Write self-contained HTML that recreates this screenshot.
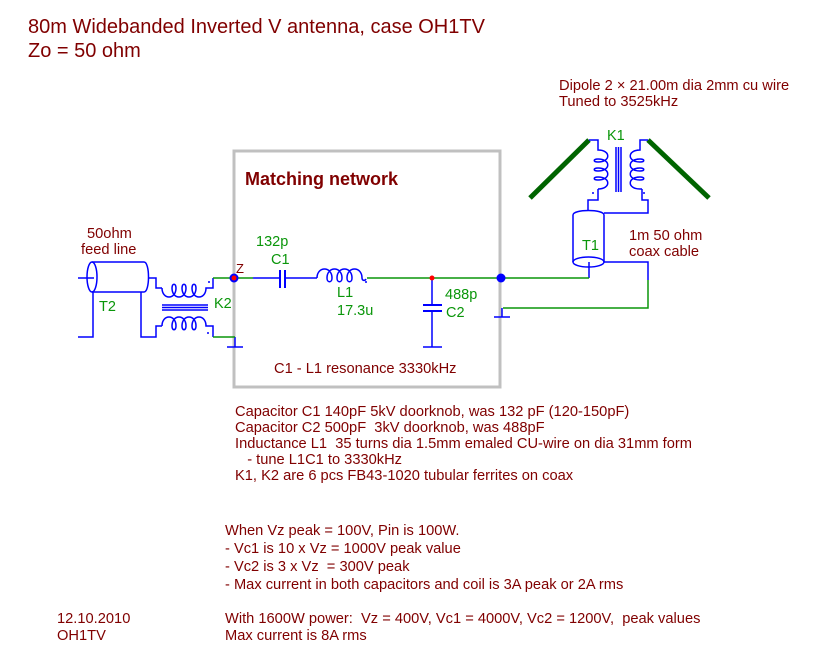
<!DOCTYPE html>
<html><head><meta charset="utf-8"><style>
html,body{margin:0;padding:0;background:#fff}
svg{display:block}
text{white-space:pre}
</style></head><body>
<svg width="813" height="662" viewBox="0 0 813 662" xmlns="http://www.w3.org/2000/svg" font-family="'Liberation Sans', Arial, sans-serif">
<rect x="0" y="0" width="813" height="662" fill="#fff"/>

<!-- Titles -->
<g fill="#800000" font-size="20">
<text x="28" y="33">80m Widebanded Inverted V antenna, case OH1TV</text>
<text x="28" y="57">Zo = 50 ohm</text>
</g>

<!-- Matching network box -->
<rect x="234" y="151" width="266" height="236" fill="none" stroke="#c0c0c0" stroke-width="3"/>
<text x="245" y="185" fill="#800000" font-size="18" font-weight="bold">Matching network</text>

<!-- Antenna legs -->
<g stroke="#006400" stroke-width="5" fill="none">
<line x1="530" y1="198" x2="589" y2="140"/>
<line x1="648" y1="140" x2="709" y2="198"/>
</g>

<!-- Blue circuit -->
<g stroke="#0000ff" stroke-width="1.5" fill="none">
<!-- T2 coax -->
<ellipse cx="92" cy="277" rx="5" ry="15"/>
<path d="M92,262 H144 C150,262 150,292 144,292 H92"/>
<path d="M78,278 H94"/>
<path d="M148.5,278 H156 V288 H162"/>
<path d="M93,292 V337 H78"/>
<path d="M141,292 V337 H156 V326 H162"/>
<!-- K2 top coil (arches down) -->
<path d="M162,288 C162,300 176,300 176,288 C176,283 172,283 172,288 C172,300 186,300 186,288 C186,283 182,283 182,288 C182,300 196,300 196,288 C196,283 192,283 192,288 C192,300 206,300 206,288 H213 V278"/>
<!-- K2 bottom coil (arches up) -->
<path d="M162,326 C162,314 176,314 176,326 C176,331 172,331 172,326 C172,314 186,314 186,326 C186,331 182,331 182,326 C182,314 196,314 196,326 C196,331 192,331 192,326 C192,314 206,314 206,326 H213 V337"/>
<!-- K2 core -->
<path d="M162,305 H208 M162,307.5 H208 M162,310 H208"/>
<!-- Z ground -->
<path d="M235,337 V347 M227,347 H243"/>
<!-- C1 -->
<path d="M253,278 H280 M285,278 H317"/>
<path d="M280,270 V288 M285,270 V288" stroke-width="2"/>
<!-- L1 -->
<path d="M317,278 C317,266 332,266 332,278 C332,283 327,283 327,278 C327,266 342,266 342,278 C342,283 337,283 337,278 C337,266 352,266 352,278 C352,283 347,283 347,278 C347,266 362,266 362,278 C362,281 365,281 366,279"/>
<!-- C2 -->
<path d="M432,278 V305 M432,311 V347 M423,347 H442"/>
<path d="M423,305 H442 M423,311 H442" stroke-width="2"/>
<!-- right ground -->
<path d="M502,308 V317 M494,317 H510"/>
<!-- T1 coax -->
<path d="M573,262 V215 C573,209 604,209 604,215 V262"/>
<ellipse cx="588.5" cy="262" rx="15.5" ry="5"/>
<path d="M589,262 V278"/>
<path d="M604,262 H648 V280"/>
<path d="M604,213 H648 V200 H642 V189"/>
<path d="M588,211 V200 H598 V189"/>
<!-- K1 left coil -->
<path d="M589,140 H598 V150 C611,150 611,162 598,162 C593,162 593,159 598,159 C611,159 611,171 598,171 C593,171 593,168 598,168 C611,168 611,180 598,180 C593,180 593,177 598,177 C611,177 611,189 598,189"/>
<!-- K1 right coil -->
<path d="M648,140 H640 V150 C627,150 627,162 640,162 C645,162 645,159 640,159 C627,159 627,171 640,171 C645,171 645,168 640,168 C627,168 627,180 640,180 C645,180 645,177 640,177 C627,177 627,189 640,189 H642"/>
<!-- K1 core -->
<path d="M616,147 V192 M618.5,147 V192 M621,147 V192"/>
</g>

<!-- dots on coils -->
<g fill="#0000ff">
<circle cx="209" cy="282" r="1"/>
<circle cx="208" cy="333" r="1"/>
<circle cx="366" cy="282" r="1"/>
<circle cx="593" cy="193" r="1"/>
<circle cx="644" cy="193" r="1"/>
</g>

<!-- Green wires -->
<g stroke="#0a960a" stroke-width="1.5" fill="none">
<path d="M213,278 H253"/>
<path d="M213,337 H235"/>
<path d="M367,278 H589"/>
<path d="M648,280 V308 H503"/>
</g>

<!-- Nodes -->
<circle cx="234" cy="278" r="4.5" fill="#0000ff"/>
<circle cx="234" cy="278" r="2.5" fill="#ff0000"/>
<circle cx="501" cy="278" r="4.5" fill="#0000ff"/>
<circle cx="432" cy="278" r="2.5" fill="#ff0000"/>

<!-- Green component labels -->
<g fill="#0a960a" font-size="14.5">
<text x="99" y="311">T2</text>
<text x="214" y="308">K2</text>
<text x="256" y="246">132p</text>
<text x="271" y="264">C1</text>
<text x="337" y="297">L1</text>
<text x="337" y="315">17.3u</text>
<text x="445" y="299">488p</text>
<text x="446" y="317">C2</text>
<text x="607" y="140">K1</text>
<text x="582" y="250">T1</text>
</g>

<!-- Dark red labels -->
<g fill="#800000" font-size="14.67">
<text x="236" y="273" font-size="13">Z</text>
<text x="87" y="238">50ohm</text>
<text x="81" y="254">feed line</text>
<text x="274" y="373">C1 - L1 resonance 3330kHz</text>
<text x="559" y="90">Dipole 2 × 21.00m dia 2mm cu wire</text>
<text x="559" y="106">Tuned to 3525kHz</text>
<text x="629" y="240">1m 50 ohm</text>
<text x="629" y="256">coax cable</text>

<text x="235" y="416">Capacitor C1 140pF 5kV doorknob, was 132 pF (120-150pF)</text>
<text x="235" y="432">Capacitor C2 500pF  3kV doorknob, was 488pF</text>
<text x="235" y="448">Inductance L1  35 turns dia 1.5mm emaled CU-wire on dia 31mm form</text>
<text x="235" y="464">   - tune L1C1 to 3330kHz</text>
<text x="235" y="480">K1, K2 are 6 pcs FB43-1020 tubular ferrites on coax</text>

<text x="225" y="535">When Vz peak = 100V, Pin is 100W.</text>
<text x="225" y="553">- Vc1 is 10 x Vz = 1000V peak value</text>
<text x="225" y="571">- Vc2 is 3 x Vz  = 300V peak</text>
<text x="225" y="589">- Max current in both capacitors and coil is 3A peak or 2A rms</text>
<text x="225" y="623">With 1600W power:  Vz = 400V, Vc1 = 4000V, Vc2 = 1200V,  peak values</text>
<text x="225" y="640">Max current is 8A rms</text>
<text x="57" y="623">12.10.2010</text>
<text x="57" y="640">OH1TV</text>
</g>
</svg>
</body></html>
